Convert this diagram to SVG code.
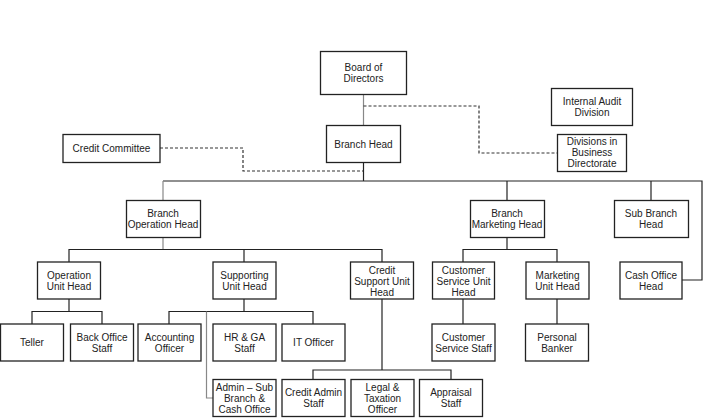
<svg xmlns="http://www.w3.org/2000/svg" width="717" height="418" viewBox="0 0 717 418">
<style>
.box{fill:#fff;stroke:#222;stroke-width:1.3}
.ln{fill:none;stroke:#222;stroke-width:1.2}
.gr{fill:none;stroke:#888;stroke-width:1.2}
.ds{fill:none;stroke:#333;stroke-width:1.2;stroke-dasharray:3,2}
text{font-family:"Liberation Sans",Arial,sans-serif;font-size:10px;fill:#222;text-anchor:middle}
</style>
<rect width="717" height="418" fill="#fff"/>
<g id="connectors">
<path class="gr" d="M363.5,94V125"/>
<path class="ds" d="M363.5,106H479V153H557"/>
<path class="ds" d="M160,148H243V171H363.5"/>
<path class="ln" d="M363.5,163V181"/>
<path class="ln" d="M163,181H702V280H682"/>
<path class="gr" d="M163,181V200"/>
<path class="ln" d="M507,181V200"/>
<path class="ln" d="M651,181V200"/>
<path class="gr" d="M163,237V249.5"/>
<path class="ln" d="M69,262V249.5H382V262"/>
<path class="ln" d="M244,249.5V262"/>
<path class="ln" d="M507,237V249.5"/>
<path class="ln" d="M463,262V249.5H557V262"/>
<path class="ln" d="M69,299V311.5"/>
<path class="ln" d="M32,324V311.5H102V324"/>
<path class="ln" d="M244,299V311.5"/>
<path class="ln" d="M169,324V311.5H313V324"/>
<path class="gr" d="M206.5,311.5V398H213"/>
<path class="ln" d="M382,299V370"/>
<path class="ln" d="M313,379V370H451V379"/>
<path class="ln" d="M463,299V324"/>
<path class="ln" d="M557,299V324"/>
</g>
<g id="board"><rect class="box" x="320.5" y="51.5" width="86" height="43"/><text x="363.5" y="71">Board of</text><text x="363.5" y="82">Directors</text></g>
<g id="audit"><rect class="box" x="551.5" y="88.5" width="81" height="37"/><text x="592" y="104.5">Internal Audit</text><text x="592" y="115.5">Division</text></g>
<g id="branchhead"><rect class="box" x="326.5" y="125.5" width="74" height="37"/><text x="363.5" y="147.5">Branch Head</text></g>
<g id="divisions"><rect class="box" x="557.5" y="134.5" width="69" height="37"/><text x="592" y="145">Divisions in</text><text x="592" y="156">Business</text><text x="592" y="167">Directorate</text></g>
<g id="credcomm"><rect class="box" x="63" y="134.5" width="97" height="28"/><text x="111.5" y="151.5">Credit Committee</text></g>
<g id="boh"><rect class="box" x="126.5" y="200.5" width="74" height="37"/><text x="163" y="216.5">Branch</text><text x="163" y="227.5">Operation Head</text></g>
<g id="bmh"><rect class="box" x="470.5" y="200.5" width="74" height="37"/><text x="507" y="216.5">Branch</text><text x="507" y="227.5">Marketing Head</text></g>
<g id="sbh"><rect class="box" x="614.5" y="200.5" width="74" height="37"/><text x="651" y="216.5">Sub Branch</text><text x="651" y="227.5">Head</text></g>
<g id="ouh"><rect class="box" x="37.5" y="262" width="63" height="37"/><text x="69" y="278.5">Operation</text><text x="69" y="289.5">Unit Head</text></g>
<g id="suh"><rect class="box" x="213" y="262" width="63" height="37"/><text x="244.5" y="278.5">Supporting</text><text x="244.5" y="289.5">Unit Head</text></g>
<g id="csuh"><rect class="box" x="350.5" y="262" width="63" height="37"/><text x="382" y="273.5">Credit</text><text x="382" y="284.5">Support Unit</text><text x="382" y="295.5">Head</text></g>
<g id="csunit"><rect class="box" x="432.5" y="262" width="62" height="37"/><text x="463.5" y="273.5">Customer</text><text x="463.5" y="284.5">Service Unit</text><text x="463.5" y="295.5">Head</text></g>
<g id="muh"><rect class="box" x="526" y="262" width="63" height="37"/><text x="557.5" y="278.5">Marketing</text><text x="557.5" y="289.5">Unit Head</text></g>
<g id="coh"><rect class="box" x="620" y="262" width="62" height="37"/><text x="651" y="278.5">Cash Office</text><text x="651" y="289.5">Head</text></g>
<g id="teller"><rect class="box" x="0.5" y="324" width="63" height="37"/><text x="32" y="346">Teller</text></g>
<g id="backoffice"><rect class="box" x="70.5" y="324" width="63" height="37"/><text x="102" y="340.5">Back Office</text><text x="102" y="351.5">Staff</text></g>
<g id="accounting"><rect class="box" x="138" y="324" width="63" height="37"/><text x="169.5" y="340.5">Accounting</text><text x="169.5" y="351.5">Officer</text></g>
<g id="hrga"><rect class="box" x="213" y="324" width="63" height="37"/><text x="244.5" y="340.5">HR &amp; GA</text><text x="244.5" y="351.5">Staff</text></g>
<g id="it"><rect class="box" x="282" y="324" width="63" height="37"/><text x="313.5" y="346">IT Officer</text></g>
<g id="css"><rect class="box" x="432" y="324" width="63" height="37"/><text x="463.5" y="340.5">Customer</text><text x="463.5" y="351.5">Service Staff</text></g>
<g id="pb"><rect class="box" x="525.5" y="324" width="63" height="37"/><text x="557" y="340.5">Personal</text><text x="557" y="351.5">Banker</text></g>
<g id="admin"><rect class="box" x="213" y="379.5" width="63" height="37"/><text x="244.5" y="390.5">Admin – Sub</text><text x="244.5" y="401.5">Branch &amp;</text><text x="244.5" y="412.5">Cash Office</text></g>
<g id="creditadmin"><rect class="box" x="282" y="379.5" width="63" height="37"/><text x="313.5" y="396">Credit Admin</text><text x="313.5" y="407">Staff</text></g>
<g id="legal"><rect class="box" x="351" y="379.5" width="63" height="37"/><text x="382.5" y="390.5">Legal &amp;</text><text x="382.5" y="401.5">Taxation</text><text x="382.5" y="412.5">Officer</text></g>
<g id="appraisal"><rect class="box" x="419.5" y="379.5" width="63" height="37"/><text x="451" y="396">Appraisal</text><text x="451" y="407">Staff</text></g>
</svg>
